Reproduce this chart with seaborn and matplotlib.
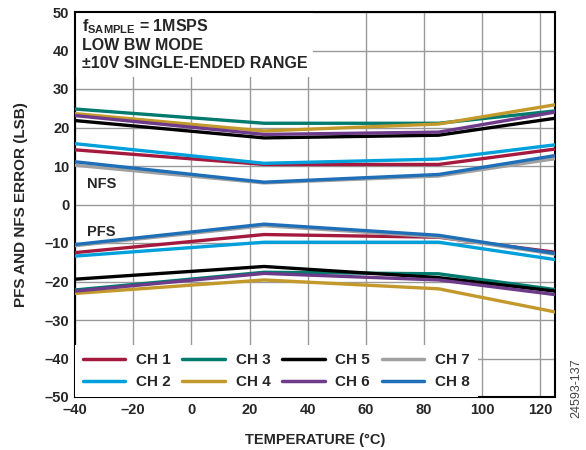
import pandas as pd
import matplotlib.pyplot as plt
import seaborn as sns
from matplotlib.patches import Rectangle

temps = [-40, 25, 85, 125]
channels = ["CH 1", "CH 2", "CH 3", "CH 4", "CH 5", "CH 6", "CH 7", "CH 8"]

# NFS error (LSB) per channel at each temperature
nfs = {
    "CH 1": [14.2, 10.4, 10.4, 14.4],
    "CH 2": [15.8, 10.7, 11.8, 15.5],
    "CH 3": [24.8, 21.1, 21.1, 24.3],
    "CH 4": [23.6, 19.1, 20.9, 25.9],
    "CH 5": [21.8, 17.3, 18.0, 22.4],
    "CH 6": [23.1, 18.2, 18.8, 24.0],
    "CH 7": [10.2, 5.6, 7.4, 11.9],
    "CH 8": [11.1, 5.8, 7.8, 12.7],
}
# PFS error (LSB)
pfs = {
    "CH 1": [-12.5, -7.8, -8.5, -12.4],
    "CH 2": [-13.4, -9.8, -9.8, -14.3],
    "CH 3": [-22.2, -17.6, -18.0, -22.1],
    "CH 4": [-23.1, -19.6, -21.9, -27.9],
    "CH 5": [-19.4, -16.1, -19.0, -22.5],
    "CH 6": [-22.5, -17.9, -19.6, -23.4],
    "CH 7": [-10.7, -5.5, -8.4, -12.9],
    "CH 8": [-10.4, -5.1, -8.0, -12.7],
}
colors = ["#A6193F", "#00A0DC", "#007B6E", "#C4992B",
          "#000000", "#6E3A8A", "#A0A0A0", "#1E6FB8"]

rows = []
for ch in channels:
    for t, v in zip(temps, nfs[ch]):
        rows.append({"Temp": t, "Error": v, "Channel": ch, "Branch": "NFS"})
    for t, v in zip(temps, pfs[ch]):
        rows.append({"Temp": t, "Error": v, "Channel": ch, "Branch": "PFS"})
df = pd.DataFrame(rows)

sns.set_style("white")
plt.rcParams["font.family"] = ["Liberation Sans", "DejaVu Sans"]
plt.rcParams["font.weight"] = "bold"
plt.rcParams["mathtext.fontset"] = "custom"
plt.rcParams["mathtext.rm"] = "Liberation Sans:bold"
plt.rcParams["mathtext.it"] = "Liberation Sans:bold"
plt.rcParams["mathtext.bf"] = "Liberation Sans:bold"

fig = plt.figure(figsize=(5.86, 4.5), dpi=100)
ax = fig.add_axes([75 / 586, 1 - 397 / 450, 480 / 586, 385 / 450])

sns.lineplot(data=df, x="Temp", y="Error", hue="Channel", units="Branch",
             estimator=None, palette=dict(zip(channels, colors)),
             hue_order=channels, linewidth=2.4, ax=ax, zorder=3)

ax.set_xlim(-40, 125)
ax.set_ylim(-50, 50)
ax.set_xticks(range(-40, 121, 20))
ax.set_yticks(range(-50, 51, 10))
ax.set_xticklabels([str(v).replace("-", "\u2013") for v in range(-40, 121, 20)])
ax.set_yticklabels([str(v).replace("-", "\u2013") for v in range(-50, 51, 10)])
ax.tick_params(labelsize=10.5, length=0, pad=4)
ax.grid(True, color="#999999", linewidth=1, zorder=0)
ax.set_axisbelow(True)
for s in ax.spines.values():
    s.set_color("black")
    s.set_linewidth(1.5)

ax.set_xlabel("TEMPERATURE (°C)", fontsize=10.5, fontweight="bold", labelpad=12)
ax.set_ylabel("PFS AND NFS ERROR (LSB)", fontsize=11, fontweight="bold", labelpad=12)

# white box behind the condition text
ax.add_patch(Rectangle((0, 1 - 65 / 385), 238 / 480, 65 / 385, transform=ax.transAxes,
                       facecolor="white", edgecolor="none", zorder=1.5))
for i, txt in enumerate([r"$\mathrm{f_{SAMPLE}}$ = 1MSPS", "LOW BW MODE",
                         "±10V SINGLE-ENDED RANGE"]):
    ax.text(7 / 480, 1 - (15 + 18.5 * i) / 385, txt, transform=ax.transAxes,
            fontsize=11.5, fontweight="bold", va="center", zorder=4)

ax.text(-36, 5.3, "NFS", fontsize=10.5, fontweight="bold", va="center")
ax.text(-36, -7.2, "PFS", fontsize=10.5, fontweight="bold", va="center")

handles, labels = ax.get_legend_handles_labels()
leg = ax.legend(handles, labels, ncol=4, loc="lower left", bbox_to_anchor=(0, 0),
                frameon=True, fancybox=False, framealpha=1, edgecolor="none",
                facecolor="white", borderaxespad=0, borderpad=0.5,
                handlelength=2.8, columnspacing=0.75, handletextpad=0.7,
                labelspacing=0.55, prop={"weight": "bold", "size": 11})
leg.set_zorder(5)
for line in leg.get_lines():
    line.set_linewidth(2.5)

fig.text(0.983, 0.137, "24593-137", rotation=90, fontsize=9, fontweight="normal",
         color="#444444", ha="center", va="center")

fig.savefig("out.png", dpi=100)
